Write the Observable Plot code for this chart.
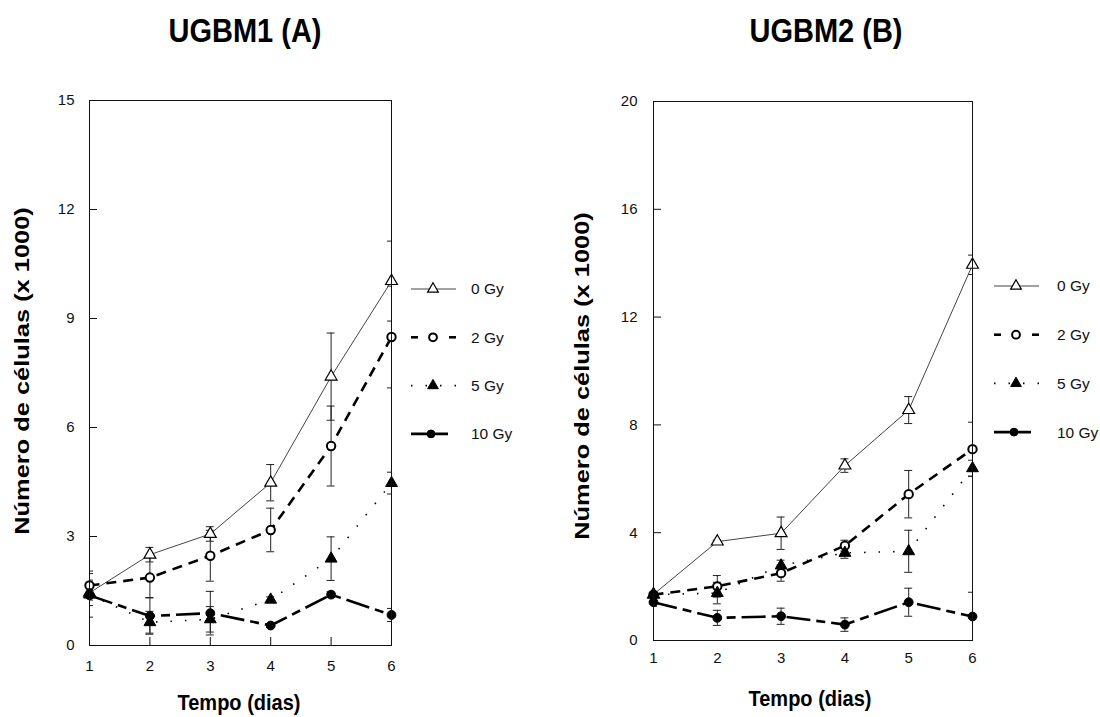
<!DOCTYPE html>
<html>
<head>
<meta charset="utf-8">
<script src="https://cdn.jsdelivr.net/npm/d3@7"></script>
<script src="https://cdn.jsdelivr.net/npm/@observablehq/plot@0.6"></script>
<style>
  body { margin: 0; background: #fff; font-family: "Liberation Sans", Arial, sans-serif; }
  #wrap { position: relative; width: 1100px; height: 717px; overflow: hidden; background: #fff; }
  .panel { position: absolute; top: 0; width: 550px; height: 717px; }
  .panel svg text { font-size: 15px; }
  .title { position: absolute; font-weight: bold; font-size: 29px; white-space: nowrap; transform: translate(-50%, -50%) scaleY(1.15); color: #000; }
  .xlab { position: absolute; font-weight: bold; font-size: 20px; white-space: nowrap; transform: translate(-50%, -50%) scaleY(1.1); color: #000; }
  .ylab { position: absolute; font-weight: bold; font-size: 20px; white-space: nowrap; transform: translate(-50%, -50%) rotate(-90deg) scaleX(1.27); color: #000; }
  .legend { position: absolute; }
</style>
</head>
<body>
<div id="wrap"></div>
<script>
// ---- data ----
const days = [1, 2, 3, 4, 5, 6];
const doses = ["0 Gy", "2 Gy", "5 Gy", "10 Gy"];

// Panel A: UGBM1
const titleA = "UGBM1 (A)";
const yTicksA = [0, 3, 6, 9, 12, 15];
const a0 = [1.45, 2.5, 3.07, 4.48, 7.4, 10.03];
const a0err = [0.35, 0.2, 0.2, 0.5, 1.2, 1.1];
const a2 = [1.65, 1.87, 2.47, 3.18, 5.49, 8.49];
const a2err = [0.4, 0.55, 0.7, 0.6, 1.1, 1.4];
const a5 = [1.4, 0.64, 0.72, 1.26, 2.39, 4.47];
const a5err = [0.3, 0.3, 0.35, 0.08, 0.6, 0.3];
const a10 = [1.38, 0.81, 0.89, 0.55, 1.4, 0.84];
const a10err = [0.6, 0.5, 0.6, 0.05, 0.08, 0.18];

// Panel B: UGBM2
const titleB = "UGBM2 (B)";
const yTicksB = [0, 4, 8, 12, 16, 20];
const b0 = [1.71, 3.67, 3.98, 6.49, 8.55, 13.94];
const b0err = [0.1, 0.05, 0.6, 0.25, 0.5, 0.36];
const b2 = [1.7, 2.01, 2.5, 3.52, 5.43, 7.1];
const b2err = [0.1, 0.4, 0.3, 0.2, 0.88, 1.0];
const b5 = [1.7, 1.76, 2.78, 3.25, 3.31, 6.39];
const b5err = [0.1, 0.4, 0.2, 0.2, 0.78, 0.3];
const b10 = [1.42, 0.84, 0.9, 0.59, 1.42, 0.89];
const b10err = [0.15, 0.28, 0.3, 0.25, 0.52, 0.9];

const yLabel = "Número de células (x 1000)";
const xLabel = "Tempo (dias)";

// ---- styles per dose ----
const styles = {
  "0 Gy":  {stroke: "#444", width: 1,   dash: null,        symbol: "triangle", fill: "#fff", r: 4.4, sw: 1.2},
  "2 Gy":  {stroke: "#000", width: 2.6, dash: "10,7",      symbol: "circle",   fill: "#fff", r: 4.2, sw: 2},
  "5 Gy":  {stroke: "#000", width: 1.6, dash: "1.5,13",    symbol: "triangle", fill: "#000", r: 4.4, sw: 1},
  "10 Gy": {stroke: "#000", width: 2.6, dash: "24,6,9,6",  symbol: "circle",   fill: "#000", r: 4.4, sw: 1}
};

function tidy(vals, errs) {
  const out = [];
  doses.forEach((dose, k) => {
    days.forEach((day, i) => out.push({dose, day, v: vals[k][i], e: errs[k][i]}));
  });
  return out;
}

const wrap = document.getElementById("wrap");

function panel(cfg) {
  const data = tidy(cfg.vals, cfg.errs);
  const W = 550, H = 717;
  const plotW = W - cfg.ml - cfg.mr, plotH = H - cfg.mt - cfg.mb;
  const marks = [];
  // error bars
  marks.push(Plot.ruleX(data, {x: "day", y1: d => d.v - d.e, y2: d => d.v + d.e, stroke: "#222", strokeWidth: 1, clip: true}));
  marks.push(Plot.ruleY(data, {x1: "day", x2: "day", y: d => d.v + d.e, insetLeft: -4, insetRight: -4, stroke: "#222", strokeWidth: 1, clip: true}));
  marks.push(Plot.ruleY(data, {x1: "day", x2: "day", y: d => d.v - d.e, insetLeft: -4, insetRight: -4, stroke: "#222", strokeWidth: 1, clip: true}));
  // lines
  doses.forEach(dose => {
    const s = styles[dose];
    marks.push(Plot.line(data.filter(d => d.dose === dose), {x: "day", y: "v", stroke: s.stroke, strokeWidth: s.width, strokeDasharray: s.dash, strokeLinecap: "butt"}));
  });
  // markers
  doses.forEach(dose => {
    const s = styles[dose];
    marks.push(Plot.dot(data.filter(d => d.dose === dose), {x: "day", y: "v", symbol: s.symbol, r: s.r, fill: s.fill, stroke: "#000", strokeWidth: s.sw}));
  });
  // frame, inner ticks, axes
  marks.push(Plot.frame({stroke: "#111", strokeWidth: 1}));
  marks.push(Plot.tickY(cfg.yTicks, {y: d => d, insetRight: plotW - 8, stroke: "#111"}));
  if (cfg.xInnerTicks) marks.push(Plot.tickX(days, {x: d => d, insetTop: plotH - 8, stroke: "#111"}));
  marks.push(Plot.axisY(cfg.yTicks, {tickSize: 0, tickPadding: cfg.yPad, fontSize: 15, label: null, fill: "#111"}));
  marks.push(Plot.axisX(days, {tickSize: 0, tickPadding: cfg.xPad, fontSize: 15, label: null, fill: "#111"}));

  const chart = Plot.plot({
    width: W, height: H,
    marginLeft: cfg.ml, marginRight: cfg.mr, marginTop: cfg.mt, marginBottom: cfg.mb,
    x: {domain: [1, 6]},
    y: {domain: [0, cfg.yMax]},
    style: {fontFamily: "'Liberation Sans', Arial, sans-serif", fontSize: "15px", background: "transparent", overflow: "visible"},
    marks
  });
  const div = document.createElement("div");
  div.className = "panel";
  div.style.left = cfg.left + "px";
  div.appendChild(chart);
  wrap.appendChild(div);

  // titles
  const t = document.createElement("div");
  t.className = "title"; t.textContent = cfg.title;
  t.style.left = cfg.titleX + "px"; t.style.top = cfg.titleY + "px";
  wrap.appendChild(t);
  const yl = document.createElement("div");
  yl.className = "ylab"; yl.textContent = yLabel;
  yl.style.left = cfg.ylX + "px"; yl.style.top = cfg.ylY + "px";
  wrap.appendChild(yl);
  const xl = document.createElement("div");
  xl.className = "xlab"; xl.textContent = xLabel;
  xl.style.left = cfg.xlX + "px"; xl.style.top = cfg.xlY + "px";
  wrap.appendChild(xl);

  // legend
  const lg = d3.create("svg").attr("class", "legend")
    .attr("width", 140).attr("height", 200)
    .style("left", cfg.legX + "px").style("top", cfg.legY + "px");
  doses.forEach((dose, i) => {
    const s = styles[dose];
    const g = lg.append("g").attr("transform", `translate(0, ${10 + i * cfg.legStep})`);
    if (dose === "2 Gy") {
      g.append("line").attr("x1", 0).attr("x2", 7).attr("y1", 0).attr("y2", 0).attr("stroke", "#000").attr("stroke-width", 2.6);
      g.append("line").attr("x1", 38).attr("x2", 45).attr("y1", 0).attr("y2", 0).attr("stroke", "#000").attr("stroke-width", 2.6);
    } else if (dose === "5 Gy") {
      g.append("line").attr("x1", 0).attr("x2", 46).attr("y1", 0).attr("y2", 0).attr("stroke", "#000").attr("stroke-width", 1.6).attr("stroke-dasharray", "1.5,13");
    } else {
      g.append("line").attr("x1", 0).attr("x2", dose === "0 Gy" ? 45 : 37).attr("y1", 0).attr("y2", 0).attr("stroke", s.stroke).attr("stroke-width", s.width);
    }
    const cx = dose === "10 Gy" ? 20 : 22;
    const sym = (s.symbol === "triangle" ? d3.symbolTriangle : d3.symbolCircle);
    const size = s.symbol === "triangle" ? 50 : 48;
    g.append("path").attr("d", d3.symbol(sym, size)()).attr("transform", `translate(${cx},0)`)
      .attr("fill", s.fill).attr("stroke", "#000").attr("stroke-width", s.sw);
    g.append("text").attr("x", cfg.legTextX).attr("y", 0).attr("dy", "0.35em")
      .attr("font-size", 15.5).attr("font-family", "'Liberation Sans', Arial, sans-serif").attr("fill", "#111").text(dose);
  });
  wrap.appendChild(lg.node());
}

panel({
  left: 0, title: titleA, titleX: 245, titleY: 31,
  vals: [a0, a2, a5, a10], errs: [a0err, a2err, a5err, a10err],
  yMax: 15, yTicks: yTicksA,
  ml: 89, mr: 159, mt: 100, mb: 72, yPad: 15, xPad: 15, xInnerTicks: true,
  ylX: 22, ylY: 371, xlX: 239, xlY: 703,
  legX: 411, legY: 279, legStep: 48.3, legTextX: 60
});

panel({
  left: 550, title: titleB, titleX: 826, titleY: 31,
  vals: [b0, b2, b5, b10], errs: [b0err, b2err, b5err, b10err],
  yMax: 20, yTicks: yTicksB,
  ml: 103, mr: 128, mt: 101, mb: 77, yPad: 16, xPad: 12, xInnerTicks: false,
  ylX: 582, ylY: 376, xlX: 810, xlY: 699,
  legX: 994, legY: 276, legStep: 48.7, legTextX: 63
});
</script>
</body>
</html>
